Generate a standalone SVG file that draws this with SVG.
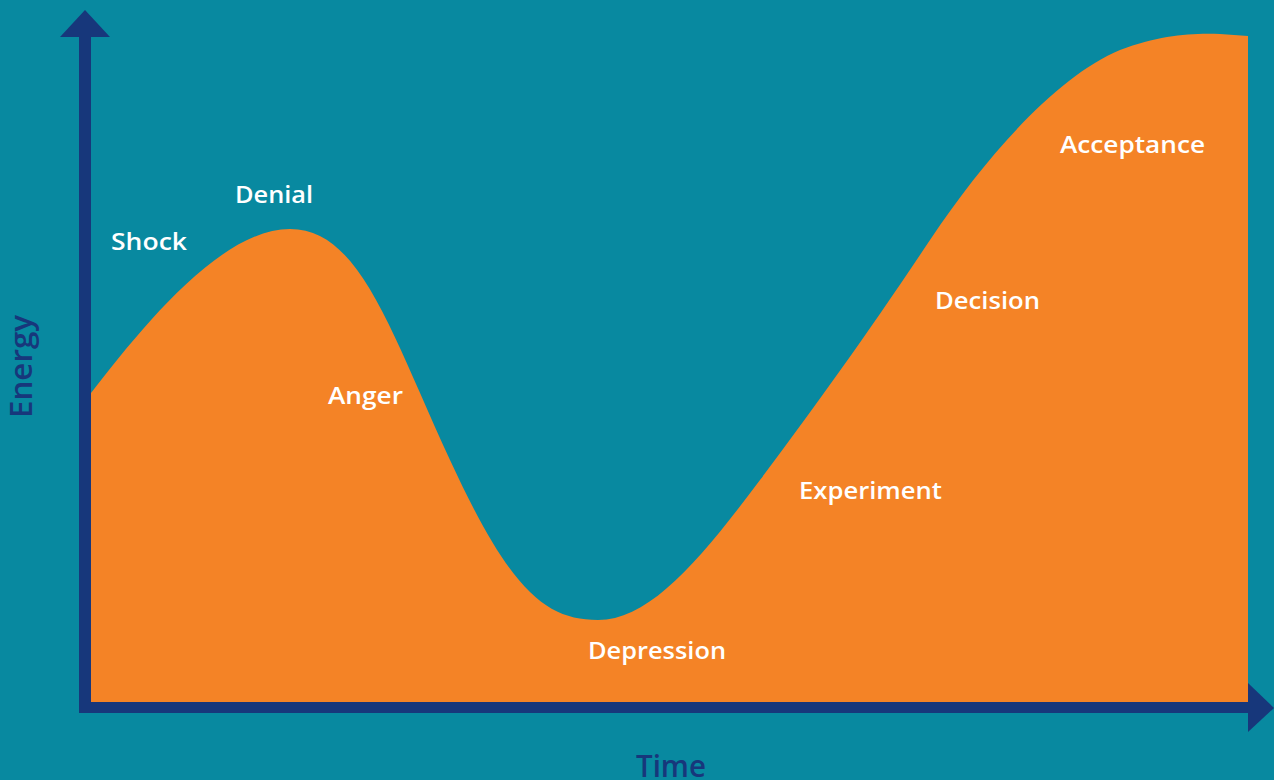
<svg xmlns="http://www.w3.org/2000/svg" width="1274" height="780" viewBox="0 0 1274 780">
  <defs>
    <style>
      .stage { font-family: "Open Sans", "Liberation Sans", sans-serif; font-weight: 600; font-size: 23px; fill: #ffffff; }
      .axis-label { font-family: "Open Sans", "Liberation Sans", sans-serif; font-weight: 600; font-size: 31px; fill: #17377b; }
      .axis { fill: #17377b; }
    </style>
  </defs>

  <!-- background -->
  <rect width="1274" height="780" fill="#0889a0"/>

  <!-- energy curve area -->
  <g id="curve">
    <path fill="#f48326" d="M91,393 C140,330 220,229 290,229 C360,229 390,330 450,460 C510,590 545,620 598,620 C650,620 700,560 760,480 C820,400 870,330 930,240 C990,150 1060,75 1120,50 C1160,35 1190,33 1220,34 L1248,36 L1248,702 L91,702 Z"/>
  </g>

  <!-- axes -->
  <g id="connectors">
    <rect class="axis" x="79" y="34" width="12" height="679"/>
    <polygon class="axis" points="85,10 110,37 60,37"/>
    <rect class="axis" x="79" y="702" width="1172" height="11"/>
    <polygon class="axis" points="1274,708 1248,683 1248,732"/>
  </g>

  <!-- stage labels -->
  <g id="shock"><text class="stage" x="111" y="250" textLength="76" lengthAdjust="spacingAndGlyphs">Shock</text></g>
  <g id="denial"><text class="stage" x="235" y="203" textLength="78" lengthAdjust="spacingAndGlyphs">Denial</text></g>
  <g id="anger"><text class="stage" x="328" y="404" textLength="75" lengthAdjust="spacingAndGlyphs">Anger</text></g>
  <g id="depression"><text class="stage" x="588" y="659" textLength="138" lengthAdjust="spacingAndGlyphs">Depression</text></g>
  <g id="experiment"><text class="stage" x="799" y="499" textLength="143" lengthAdjust="spacingAndGlyphs">Experiment</text></g>
  <g id="decision"><text class="stage" x="935" y="309" textLength="105" lengthAdjust="spacingAndGlyphs">Decision</text></g>
  <g id="acceptance"><text class="stage" x="1060" y="153" textLength="145" lengthAdjust="spacingAndGlyphs">Acceptance</text></g>

  <!-- axis titles -->
  <g id="energy-label"><text class="axis-label" transform="translate(32,418) rotate(-90)" textLength="103" lengthAdjust="spacingAndGlyphs">Energy</text></g>
  <g id="time-label"><text class="axis-label" x="636" y="777" textLength="70" lengthAdjust="spacingAndGlyphs">Time</text></g>
</svg>
